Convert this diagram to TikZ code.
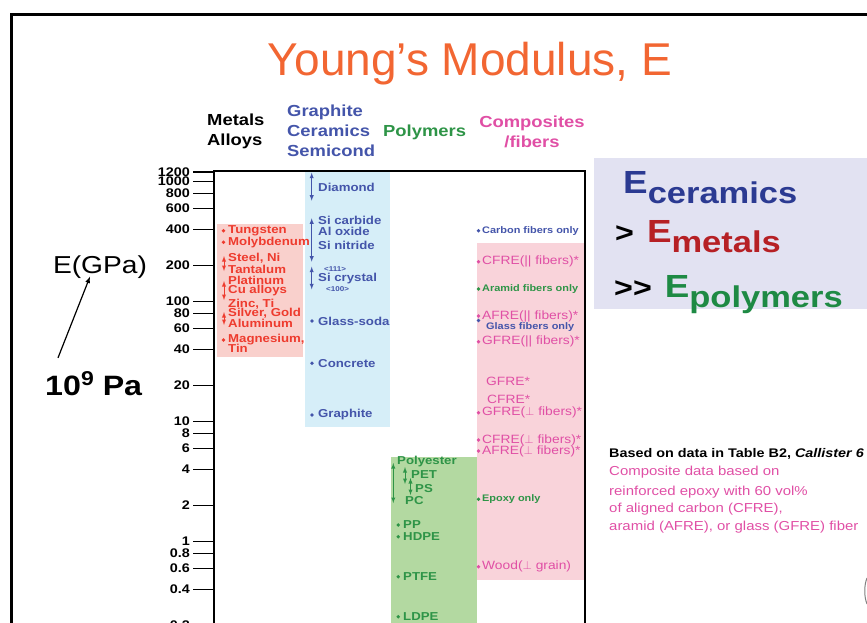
\documentclass[tikz,border=0pt]{standalone}
\usepackage{fontspec}
\setmainfont{Liberation Sans}
\newfontfamily\chart[FakeStretch=1.15]{Liberation Sans}

\definecolor{titleorange}{HTML}{F26632}
\definecolor{metred}{HTML}{EE3B2E}
\definecolor{metfill}{HTML}{F9D0CC}
\definecolor{cerblue}{HTML}{4455AA}
\definecolor{cerfill}{HTML}{D6EEF8}
\definecolor{polygreen}{HTML}{2E9447}
\definecolor{polyfill}{HTML}{B3D9A1}
\definecolor{comppink}{HTML}{E04FA5}
\definecolor{compfill}{HTML}{F9D3DA}
\definecolor{lavender}{HTML}{E2E2F2}
\definecolor{bigblue}{HTML}{2B3A92}
\definecolor{bigred}{HTML}{B62025}
\definecolor{biggreen}{HTML}{1E8A44}

\begin{document}
\begin{tikzpicture}[> = latex, x = 1pt, y = -1pt,
	head/.style = {inner sep = 0pt, align = left, font = {\chart\bfseries\fontsize{16}{20}\selectfont}},
	ticklab/.style = {inner sep = 0pt, anchor = east, font = {\chart\bfseries\fontsize{12.5}{13}\selectfont}},
	lab/.style = {inner sep = 0pt, anchor = west, font = {\chart\bfseries\fontsize{11.5}{12}\selectfont}},
	fine/.style = {inner sep = 0pt, anchor = west, font = {\chart\bfseries\fontsize{9.5}{10}\selectfont}},
	comp/.style = {inner sep = 0pt, anchor = west, text = comppink, font = {\chart\fontsize{12}{12}\selectfont}},
	note/.style = {inner sep = 0pt, anchor = base west, text = comppink, font = {\chart\fontsize{13}{13}\selectfont}},
	big/.style = {inner sep = 0pt, anchor = base west, font = {\chart\bfseries\fontsize{32}{32}\selectfont}},
	rng/.style = {<->, line width = 0.9pt}]

	% Definition

	\def\sub#1{\raisebox{-10pt}{\fontsize{30}{30}\selectfont #1}}
	\def\gt{{\fontsize{28}{28}\selectfont >}}
	\def\r{1.9}		% Size of data dots

	\useasboundingbox (0, 0) rectangle (867, 622);

	% Frame

	\draw [line width = 3pt] (11, 640) -- (11, 14) -- (880, 14);

	% Title

	\node [inner sep = 0pt, anchor = base, text = titleorange, font = \fontsize{46}{50}\selectfont] (title) at (470, 75) {Young’s Modulus, E};

	% Column heads

	\node [head, anchor = west] (hmet) at (207, 131.5) {Metals\\Alloys};
	\node [head, anchor = west, text = cerblue] (hcer) at (287, 131) {Graphite\\Ceramics\\Semicond};
	\node [head, anchor = west, text = polygreen] (hpoly) at (383, 132) {Polymers};
	\node [head, align = center, text = comppink] (hcomp) at (532, 132) {Composites\\/fibers};

	% Bands

	\fill [metfill] (217, 224) rectangle (303, 357);
	\fill [cerfill] (305, 171) rectangle (390, 427);
	\fill [polyfill] (391, 457) rectangle (477, 640);
	\fill [compfill] (477, 243) rectangle (585, 580);

	% Axis with log ticks

	\draw [line width = 1.3pt] (214, 640) -- (214, 171) -- (585, 171) -- (585, 640);

	\foreach \v [count = \i] in {1200, 1000, 800, 600, 400, 200, 100, 80, 60, 40, 20, 10, 8, 6, 4, 2, 1, 0.8, 0.6, 0.4, 0.2} {
		\pgfmathsetmacro{\ty}{181.5 + 120 * (3 - log10(\v))}
		\draw [line width = 1.2pt] (193, \ty) -- (214, \ty);
		\node [ticklab] (t\i) at (190, \ty) {\v};
	}

	% Axis name

	\node [inner sep = 0pt, font = {\chart\fontsize{24.5}{26}\selectfont}] (egpa) at (100, 267) {E(GPa)};
	\node [inner sep = 0pt, anchor = base west, font = {\chart\bfseries\fontsize{28}{28}\selectfont}] (pa) at (45, 395) {10\raisebox{10pt}{\fontsize{20}{20}\selectfont 9} Pa};
	\draw [->, line width = 1.2pt] ([xshift = 13pt, yshift = 13pt]pa.north west) -- ([xshift = -10pt, yshift = 2pt]egpa.south);

	% Metals

	\foreach \y/\t [count = \i] in {230.7/Tungsten, 242.3/Molybdenum, 258.7/{Steel, Ni}, 269/Tantalum, 280/Platinum, 290.7/Cu alloys, 303.8/{Zinc, Ti}, 313.5/{Silver, Gold}, 323.3/Aluminum, 340/Magnesium{,}, 348.3/Tin}
		\node [lab, text = metred] (m\i) at (228, \y) {\t};
	\foreach \y in {230.7, 242.3, 340}
		\fill [metred] (223.5, \y) circle (\r);
	\draw [rng, metred] (224, 256) -- (224, 271);
	\draw [rng, metred] (224, 281) -- (224, 300);
	\draw [rng, metred] (224, 312) -- (224, 325);

	% Ceramics

	\foreach \y/\t [count = \i] in {187/Diamond, 220/Si carbide, 231.7/Al oxide, 245/Si nitride, 278.3/Si crystal, 321/Glass-soda, 363.3/Concrete, 415/Graphite}
		\node [lab, text = cerblue] (c\i) at (318, \y) {\t};
	\node [fine, text = cerblue, font = {\chart\bfseries\fontsize{7}{7}\selectfont}] (c111) at (324, 269.3) {<111>};
	\node [fine, text = cerblue, font = {\chart\bfseries\fontsize{7}{7}\selectfont}] (c100) at (326, 289.3) {<100>};
	\foreach \y in {321, 363.3, 415}
		\fill [cerblue] (312, \y) circle (\r);
	\draw [rng, cerblue] (311.7, 172.7) -- (311.7, 200.7);
	\draw [rng, cerblue] (311.7, 218.3) -- (311.7, 261.7);
	\draw [rng, cerblue] (311.7, 266.7) -- (311.7, 289.3);

	% Polymers

	\foreach \y/\x/\t [count = \i] in {461.7/397/Polyester, 475/411/PET, 488.3/415/PS, 500.7/405/PC, 525/403/PP, 536.7/403/HDPE, 576.7/403/PTFE, 616.7/403/LDPE}
		\node [lab, text = polygreen] (p\i) at (\x, \y) {\t};
	\foreach \y in {525, 536.7, 576.7, 616.7}
		\fill [polygreen] (398.3, \y) circle (\r);
	\draw [rng, polygreen] (393.3, 463) -- (393.3, 503);
	\draw [rng, polygreen] (405, 467) -- (405, 484);
	\draw [rng, polygreen] (410.5, 478) -- (410.5, 495);

	% Composites

	\foreach \y/\t [count = \i] in {261.7/CFRE(|| fibers)*, 316/AFRE(|| fibers)*, 341.7/GFRE(|| fibers)*, 412.8/GFRE($\perp$ fibers)*, 440/CFRE($\perp$ fibers)*, 451/AFRE($\perp$ fibers)*, 566.7/Wood($\perp$ grain)} {
		\node [comp] (f\i) at (482, \y) {\t};
		\fill [comppink] (478.5, \y) circle (\r);
	}
	\node [comp] (fg) at (486, 381.7) {GFRE*};
	\node [comp] (fc) at (487, 399.5) {CFRE*};

	\node [fine, text = cerblue] (carb) at (482, 230.7) {Carbon fibers only};
	\node [fine, text = polygreen] (aram) at (482, 289) {Aramid fibers only};
	\node [fine, text = cerblue] (glas) at (486, 327.3) {Glass fibers only};
	\node [fine, text = polygreen] (epox) at (482, 499.3) {Epoxy only};
	\fill [cerblue] (478.5, 230.7) circle (\r);
	\fill [polygreen] (478.5, 289) circle (\r);
	\fill [cerblue] (478.5, 320.5) circle (\r);
	\fill [polygreen] (478.5, 499.3) circle (\r);

	% Ranking panel

	\fill [lavender] (594, 158) rectangle (880, 309);
	\node [big, text = bigblue] (ecer) at (623, 193) {E\sub{ceramics}};
	\node [big] (emet) at (615, 242) {\gt\hspace{13pt}\textcolor{bigred}{E\sub{metals}}};
	\node [big] (epoly) at (614, 297) {\gt\gt\hspace{13pt}\textcolor{biggreen}{E\sub{polymers}}};

	% Source note

	\node [note, text = black, font = {\chart\bfseries\fontsize{12.5}{13}\selectfont}] (src) at (609, 457) {Based on data in Table B2, \textit{Callister 6}};
	\node [note] (n1) at (609, 475) {Composite data based on};
	\node [note] (n2) at (609, 495) {reinforced epoxy with 60 vol\%};
	\node [note] (n3) at (609, 512) {of aligned carbon (CFRE),};
	\node [note] (n4) at (609, 530) {aramid (AFRE), or glass (GFRE) fiber};

	\draw [gray, line width = 1pt] (867, 578) .. controls (864, 585) and (864, 597) .. (867, 604);

\end{tikzpicture}
\end{document}
